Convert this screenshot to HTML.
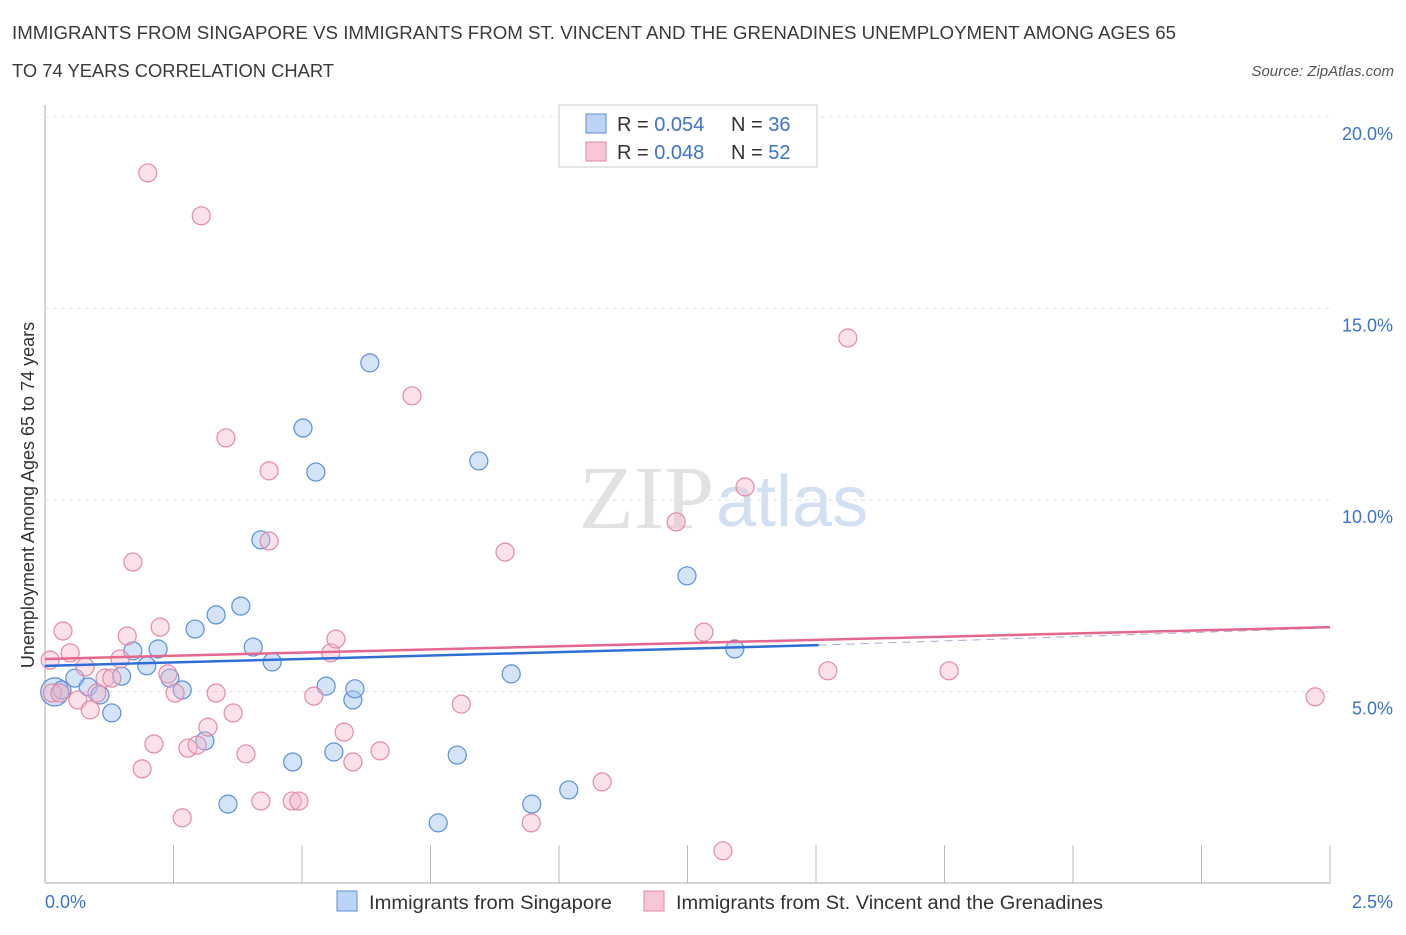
<!DOCTYPE html>
<html><head><meta charset="utf-8"><style>
body{margin:0;background:#fff;font-family:"Liberation Sans",sans-serif}
</style></head><body>
<svg width="1406" height="930" xmlns="http://www.w3.org/2000/svg">
<text x="12" y="39" font-size="18" fill="#3a3a3a" textLength="1164" lengthAdjust="spacingAndGlyphs">IMMIGRANTS FROM SINGAPORE VS IMMIGRANTS FROM ST. VINCENT AND THE GRENADINES UNEMPLOYMENT AMONG AGES 65</text>
<text x="12" y="77" font-size="18" fill="#3a3a3a" textLength="322" lengthAdjust="spacingAndGlyphs">TO 74 YEARS CORRELATION CHART</text>
<text x="1394" y="76" font-size="15" font-style="italic" fill="#555" text-anchor="end">Source: ZipAtlas.com</text>
<g id="grid"></g>
<text x="714" y="528" font-size="90" font-family="Liberation Serif,serif" fill="#e2e2e2" text-anchor="end">ZIP</text>
<text x="716" y="526" font-size="72" fill="#d3e0f2">atlas</text>
<g id="marks"></g>
<text x="34" y="495" font-size="18" fill="#333" text-anchor="middle" transform="rotate(-90 34 495)">Unemployment Among Ages 65 to 74 years</text>
<text x="45" y="908" font-size="18" fill="#3b73d0">0.0%</text>
<text x="1393" y="908" font-size="18" fill="#3b73d0" text-anchor="end">2.5%</text>
<g>
<rect x="559" y="105" width="258" height="62" fill="#fff" stroke="#ccc"/>
<rect x="586" y="114" width="20" height="19" fill="#bcd3f5" stroke="#5b8fd8"/>
<rect x="586" y="142" width="20" height="19" fill="#f8c7d5" stroke="#e58aa6"/>
<text x="617" y="131" font-size="20" fill="#333">R = <tspan fill="#3b73d0">0.054</tspan></text>
<text x="731" y="131" font-size="20" fill="#333">N = <tspan fill="#3b73d0">36</tspan></text>
<text x="617" y="159" font-size="20" fill="#333">R = <tspan fill="#3b73d0">0.048</tspan></text>
<text x="731" y="159" font-size="20" fill="#333">N = <tspan fill="#3b73d0">52</tspan></text>
</g>
<g>
<rect x="337" y="891" width="20" height="20" fill="#bcd3f5" stroke="#5b8fd8"/>
<text x="369" y="909" font-size="19" fill="#333" textLength="243" lengthAdjust="spacingAndGlyphs">Immigrants from Singapore</text>
<rect x="644" y="891" width="20" height="20" fill="#f8c7d5" stroke="#e58aa6"/>
<text x="676" y="909" font-size="19" fill="#333" textLength="427" lengthAdjust="spacingAndGlyphs">Immigrants from St. Vincent and the Grenadines</text>
</g>
</svg>
<script>
const blueX=[.019,.033,.058,.084,.107,.130,.149,.171,.198,.220,.243,.267,.292,.311,.333,.356,.381,.405,.420,.442,.482,.502,.527,.547,.562,.599,.603,.632,.765,.802,.844,.907,.947,1.019,1.249,1.342];
const blueY=[4.99,5.04,5.35,5.12,4.91,4.44,5.40,6.06,5.67,6.11,5.35,5.04,6.63,3.71,7.00,2.06,7.23,6.16,8.96,5.77,3.16,11.88,10.73,5.14,3.42,4.78,5.07,13.58,1.57,3.34,11.02,5.46,2.06,2.43,8.02,6.11];
const pinkX=[.010,.014,.029,.035,.049,.064,.078,.088,.101,.117,.130,.146,.160,.171,.189,.200,.212,.224,.239,.253,.267,.278,.296,.304,.317,.333,.352,.366,.391,.420,.436,.436,.481,.494,.523,.556,.566,.582,.599,.652,.714,.810,.895,.946,1.084,1.228,1.282,1.319,1.362,1.523,1.562,1.759,2.471];
const pinkY=[5.82,4.96,4.96,6.58,6.01,4.78,5.64,4.52,4.96,5.35,5.35,5.85,6.45,8.38,2.98,18.54,3.63,6.68,5.46,4.96,1.70,3.52,3.60,17.42,4.07,4.96,11.62,4.44,3.37,2.14,10.76,8.93,2.14,2.14,4.88,6.01,6.37,3.94,3.16,3.45,12.72,4.67,8.64,1.57,2.64,9.43,6.55,0.84,10.34,5.54,14.23,5.54,4.86];
const yTicks=[5,10,15,20];
const blueTrend=[[0,5.67],[1.505,6.21],[2.5,6.66]];
const pinkTrend=[[0,5.85],[2.5,6.68]];
const X=v=>45+v/2.5*1285, Y=v=>883-v*38.3;
const NS="http://www.w3.org/2000/svg";
function mk(t,a,p){const e=document.createElementNS(NS,t);for(const k in a)e.setAttribute(k,a[k]);p.appendChild(e);return e;}
const grid=document.getElementById('grid'), marks=document.getElementById('marks');
let ax=mk('line',{x1:45,y1:105,x2:45,y2:883,stroke:'#aaa'},grid);


let bx=mk('line',{x1:45,y1:883,x2:1330,y2:883,stroke:'#aaa'},grid);


for(let i=1;i<=10;i++){const t=mk('line',{x1:45+i*128.5,y1:845,x2:45+i*128.5,y2:883,stroke:'#bbb'},grid);

}
yTicks.forEach(v=>{const g=mk('line',{x1:45,y1:Y(v),x2:1330,y2:Y(v),stroke:'#e2e2e2','stroke-dasharray':'4 4'},grid);


const t=mk('text',{x:1393,y:Y(v)+23,'font-size':18,fill:'#3b73d0','text-anchor':'end'},grid);t.textContent=v.toFixed(1)+'%';

});
blueX.forEach((x,i)=>{const c=mk('circle',{cx:X(x),cy:Y(blueY[i]),r:i==0?14:9,fill:'rgba(160,195,240,0.45)',stroke:'#5b8fd8','stroke-width':1.2},marks);

});
pinkX.forEach((x,i)=>{const c=mk('circle',{cx:X(x),cy:Y(pinkY[i]),r:9,fill:'rgba(245,180,200,0.4)',stroke:'#e58aa6','stroke-width':1.2},marks);

});
let l1=mk('line',{x1:X(blueTrend[0][0]),y1:Y(blueTrend[0][1]),x2:X(blueTrend[1][0]),y2:Y(blueTrend[1][1]),stroke:'#2d6fd6','stroke-width':2.5},marks);


let l2=mk('line',{x1:X(blueTrend[1][0]),y1:Y(blueTrend[1][1]),x2:X(blueTrend[2][0]),y2:Y(blueTrend[2][1]),stroke:'#aac','stroke-width':1,'stroke-dasharray':'8 6'},marks);


let l3=mk('line',{x1:X(pinkTrend[0][0]),y1:Y(pinkTrend[0][1]),x2:X(pinkTrend[1][0]),y2:Y(pinkTrend[1][1]),stroke:'#e5678f','stroke-width':2.5},marks);


</script>
</body></html>
